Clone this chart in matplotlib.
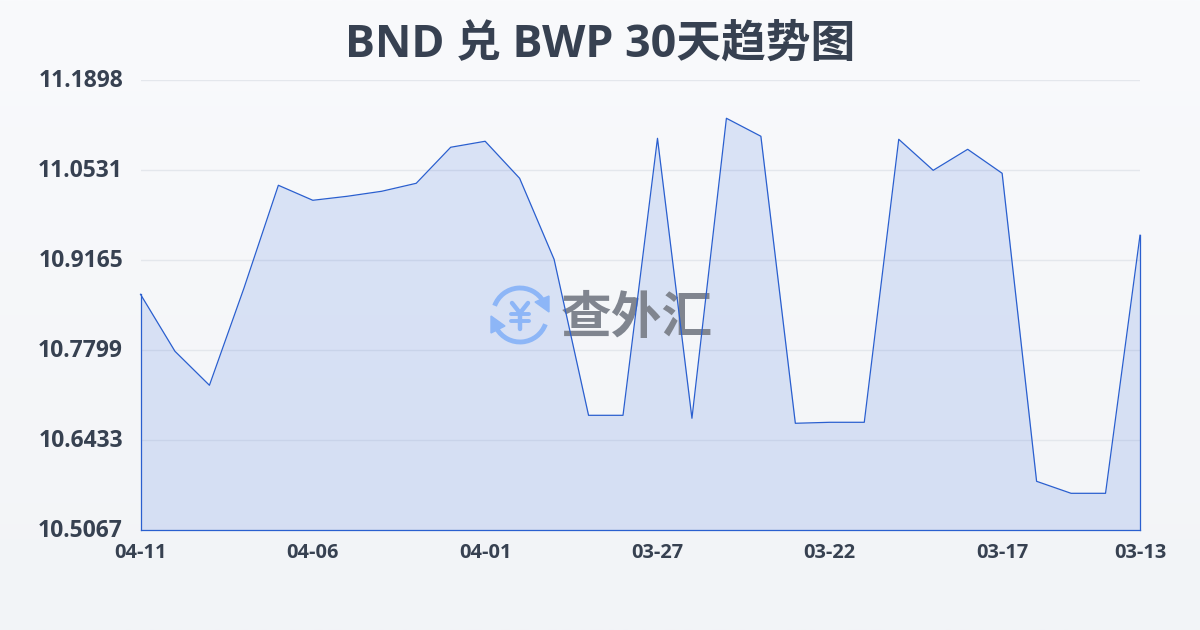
import matplotlib
matplotlib.use('Agg')
import matplotlib.pyplot as plt
import numpy as np
from matplotlib.patches import Arc, Polygon

plt.rcParams['font.family'] = ['Open Sans', 'Noto Sans CJK SC', 'DejaVu Sans']

TITLE = 'BND 兑 BWP 30天趋势图'
WATERMARK = '查外汇'

# newest first, as in the picture
dates = ['04-11', '04-10', '04-09', '04-08', '04-07', '04-06', '04-05', '04-04', '04-03', '04-02',
         '04-01', '03-31', '03-30', '03-29', '03-28', '03-27', '03-26', '03-25', '03-24', '03-23',
         '03-22', '03-21', '03-20', '03-19', '03-18', '03-17', '03-16', '03-15', '03-14', '03-13']
rates = [10.8645, 10.7780, 10.7264, 10.8736, 11.0300, 11.0072, 11.0133, 11.0209, 11.0330, 11.0877,
         11.0968, 11.0406, 10.9176, 10.6808, 10.6808, 11.1013, 10.6763, 11.1317, 11.1044, 10.6687,
         10.6702, 10.6702, 11.0998, 11.0527, 11.0846, 11.0482, 10.5806, 10.5624, 10.5624, 10.9541]
x_tick_idx = [0, 5, 10, 15, 20, 25, 29]
y_ticks = [10.5067, 10.6433, 10.7799, 10.9165, 11.0531, 11.1898]
y_tick_labels = ['10.5067', '10.6433', '10.7799', '10.9165', '11.0531', '11.1898']

W, H = 1200, 630
TEXT = '#374151'
LINE = '#2a5fcf'

fig = plt.figure(figsize=(W / 100, H / 100), dpi=100)

# page background, light vertical gradient
bg = fig.add_axes([0, 0, 1, 1], zorder=0)
bg.imshow(np.linspace(0, 1, 256).reshape(-1, 1), aspect='auto', extent=[0, 1, 0, 1],
          cmap=matplotlib.colors.LinearSegmentedColormap.from_list('bg', ['#f9fafc', '#f2f4f7']))
bg.axis('off')

ax = fig.add_axes([140.5 / W, 1 - 530.0 / H, 999.5 / W, 450 / H], zorder=1)
ax.patch.set_alpha(0)
x = np.arange(len(rates))

ax.grid(axis='y', color='#e4e7ec', linewidth=1, zorder=1)
ax.set_axisbelow(True)

# area, flat tint of the line colour
ax.fill_between(x, rates, y_ticks[0], color='#2a62dc', alpha=0.145, linewidth=0, zorder=2)
ax.set_xlim(0, len(rates) - 1)
ax.set_ylim(y_ticks[0], y_ticks[-1])

for s in ax.spines.values():
    s.set_visible(False)
ax.set_yticks(y_ticks)
ax.set_yticklabels([])
ax.set_xticks(x_tick_idx)
ax.set_xticklabels([dates[i] for i in x_tick_idx], fontsize=14.4, fontweight='bold', color=TEXT)
ax.tick_params(axis='both', length=0)
ax.tick_params(axis='x', pad=9.6)

# y labels sit a little above their grid lines
for v, lab in zip(y_ticks, y_tick_labels):
    ax.annotate(lab, (0, v), xytext=(-12.6, -0.7), textcoords='offset points', ha='right', va='center',
                fontsize=16.5, fontweight='bold', color=TEXT, annotation_clip=False)

fig.text(600 / W, 1 - 45.5 / H, TITLE, ha='center', va='center', fontsize=32.2, fontweight='bold', color='#374151')

# watermark sits over the area, under the line
ov = fig.add_axes([0, 0, 1, 1], zorder=2)
ov.set_xlim(0, W)
ov.set_ylim(H, 0)
ov.axis('off')
ICON = '#8db6f7'
cx, cy = 520, 315
ov.add_patch(Arc((cx, cy), 54, 54, theta1=200, theta2=330, color=ICON, lw=3.5))
ov.add_patch(Arc((cx, cy), 54, 54, theta1=20, theta2=150, color=ICON, lw=3.5))
ov.add_patch(Polygon([[549, 296], [549, 312], [535, 302]], color=ICON))
ov.add_patch(Polygon([[491, 316], [491, 333], [505, 326]], color=ICON))
ov.plot([cx - 8, cx, cx + 8], [303, 313, 303], color=ICON, lw=3.2, solid_capstyle='round')
ov.plot([cx, cx], [313, 329], color=ICON, lw=3.2, solid_capstyle='round')
ov.plot([cx - 9, cx + 9], [314, 314], color=ICON, lw=2.8, solid_capstyle='round')
ov.plot([cx - 9, cx + 9], [321, 321], color=ICON, lw=2.8, solid_capstyle='round')
ov.text(636.5, 318, WATERMARK, ha='center', va='center', fontsize=36.5, fontweight='bold', color='#80858f',
        family=['Noto Sans CJK SC'])

# line and outline of the area, on top of the watermark
top = fig.add_axes(ax.get_position(), zorder=3)
top.patch.set_alpha(0)
top.axis('off')
top.set_xlim(ax.get_xlim())
top.set_ylim(ax.get_ylim())
top.plot(x, rates, color=LINE, linewidth=0.9, clip_on=False)
top.plot([0, 0], [y_ticks[0], rates[0]], color=LINE, linewidth=0.9, clip_on=False)
top.plot([x[-1], x[-1]], [y_ticks[0], rates[-1]], color=LINE, linewidth=0.9, clip_on=False)
top.plot([0, x[-1]], [y_ticks[0], y_ticks[0]], color=LINE, linewidth=0.9, clip_on=False)

fig.savefig('out.png', dpi=100)
